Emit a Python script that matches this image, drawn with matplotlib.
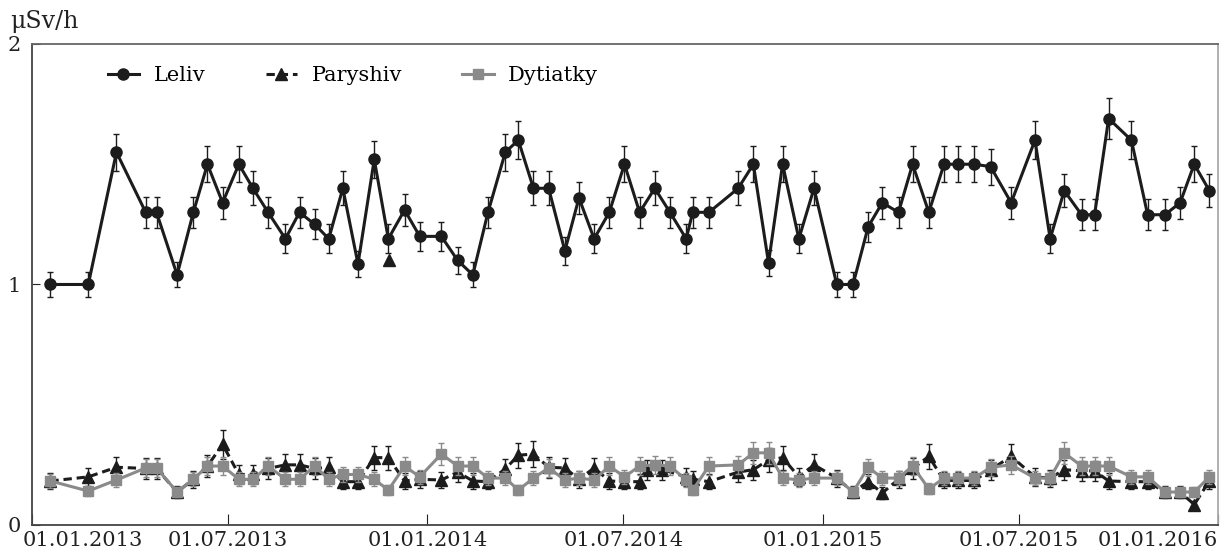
import numpy as np
import matplotlib
matplotlib.use("Agg")
import matplotlib.pyplot as plt
import matplotlib.transforms as mtransforms

plt.rcParams['font.family'] = ['DejaVu Serif']
plt.rcParams['lines.scale_dashes'] = False

# sampling dates
dates = ['2013-01-18', '2013-02-22', '2013-03-20', '2013-04-16', '2013-04-26',
         '2013-05-15', '2013-05-30', '2013-06-12', '2013-06-26', '2013-07-11',
         '2013-07-24', '2013-08-07', '2013-08-23', '2013-09-05', '2013-09-19',
         '2013-10-02', '2013-10-15', '2013-10-29', '2013-11-13', '2013-11-26',
         '2013-12-11', '2013-12-25', '2014-01-14', '2014-01-29', '2014-02-12',
         '2014-02-26', '2014-03-14', '2014-03-26', '2014-04-09', '2014-04-23',
         '2014-05-08', '2014-05-21', '2014-06-04', '2014-06-18', '2014-07-02',
         '2014-07-16', '2014-07-30', '2014-08-13', '2014-08-28', '2014-09-03',
         '2014-09-18', '2014-10-15', '2014-10-29', '2014-11-12', '2014-11-25',
         '2014-12-10', '2014-12-24', '2015-01-14', '2015-01-29', '2015-02-12',
         '2015-02-25', '2015-03-12', '2015-03-25', '2015-04-09', '2015-04-23',
         '2015-05-06', '2015-05-21', '2015-06-05', '2015-06-24', '2015-07-16',
         '2015-07-30', '2015-08-12', '2015-08-28', '2015-09-09', '2015-09-22',
         '2015-10-13', '2015-10-28', '2015-11-13', '2015-11-27', '2015-12-10',
         '2015-12-24']

# Paryshiv was sampled on the same days except two in summer 2014
dates_paryshiv = list(dates)
dates_paryshiv[36] = '2014-07-23'
dates_paryshiv[37] = '2014-08-06'

leliv = [1.00, 1.00, 1.55, 1.30, 1.30, 1.04, 1.30, 1.50, 1.34, 1.50,
         1.40, 1.30, 1.19, 1.30, 1.25, 1.19, 1.40, 1.085, 1.52, 1.19,
         1.31, 1.20, 1.20, 1.10, 1.04, 1.30, 1.55, 1.60, 1.40, 1.40,
         1.14, 1.36, 1.19, 1.30, 1.50, 1.30, 1.40, 1.30, 1.19, 1.30,
         1.30, 1.40, 1.50, 1.09, 1.50, 1.19, 1.40, 1.00, 1.00, 1.24,
         1.34, 1.30, 1.50, 1.30, 1.50, 1.50, 1.50, 1.49, 1.34, 1.60,
         1.19, 1.39, 1.29, 1.29, 1.69, 1.60, 1.29, 1.29, 1.34, 1.50,
         1.39]

paryshiv = [0.183, 0.20, 0.24, 0.235, 0.235, 0.137, 0.19, 0.245, 0.335, 0.21,
            0.21, 0.235, 0.25, 0.25, 0.235, 0.24, 0.18, 0.18, 0.28, 0.28,
            0.183, 0.19, 0.187, 0.22, 0.183, 0.18, 0.233, 0.29, 0.295, 0.24,
            0.237, 0.19, 0.237, 0.183, 0.18, 0.18, 0.23, 0.23, 0.20, 0.19,
            0.18, 0.22, 0.23, 0.27, 0.28, 0.20, 0.25, 0.195, 0.137, 0.18,
            0.133, 0.19, 0.235, 0.285, 0.185, 0.185, 0.185, 0.23, 0.285, 0.20,
            0.195, 0.23, 0.225, 0.225, 0.183, 0.18, 0.18, 0.137, 0.137, 0.085,
            0.183]

dytiatky = [0.183, 0.141, 0.187, 0.237, 0.237, 0.137, 0.19, 0.245, 0.245, 0.19,
            0.19, 0.245, 0.19, 0.19, 0.245, 0.19, 0.21, 0.21, 0.19, 0.145,
            0.245, 0.20, 0.295, 0.245, 0.245, 0.195, 0.195, 0.145, 0.195, 0.237,
            0.187, 0.195, 0.187, 0.245, 0.20, 0.245, 0.25, 0.245, 0.187, 0.145,
            0.245, 0.25, 0.30, 0.30, 0.195, 0.187, 0.195, 0.195, 0.137, 0.24,
            0.195, 0.195, 0.245, 0.15, 0.195, 0.195, 0.195, 0.24, 0.25, 0.195,
            0.195, 0.30, 0.245, 0.245, 0.245, 0.20, 0.20, 0.137, 0.137, 0.137,
            0.20]

# stray Paryshiv point drawn up near the Leliv curve
paryshiv_extra_date = ['2013-11-27']
paryshiv_extra = [1.10]

# relative uncertainty of each series
leliv_err = 0.05
paryshiv_err = 0.18
dytiatky_err = 0.15

xticks = ['2013-01-01', '2013-07-01', '2014-01-01', '2014-07-01',
          '2015-01-01', '2015-07-01', '2016-01-01']
xticklabels = ['01.01.2013', '01.07.2013', '01.01.2014', '01.07.2014',
               '01.01.2015', '01.07.2015', '01.01.2016']

d = np.array(dates, dtype='datetime64[D]')
dp = np.array(dates_paryshiv, dtype='datetime64[D]')
le = np.array(leliv)
pa = np.array(paryshiv)
dy = np.array(dytiatky)

fig = plt.figure(figsize=(12.2, 5.56), dpi=100)
ax = fig.add_axes([0.0262, 0.0558, 0.9722, 0.8651])

c_black = '#1c1c1c'
c_gray = '#8a8a8a'

e1 = ax.errorbar(d, le, yerr=leliv_err * le, color=c_black, lw=2.2,
                 marker='o', ms=8, ecolor=c_black, elinewidth=1.0,
                 capsize=2.5, capthick=1.0, label='Leliv', zorder=3)
e2 = ax.errorbar(dp, pa, yerr=paryshiv_err * pa, color=c_black, lw=2.2,
                 marker='^', ms=8, ecolor=c_black, elinewidth=1.0,
                 capsize=2.5, capthick=1.0, label='Paryshiv', zorder=4)
e2.lines[0].set_dashes((6, 3.5))
ax.plot(np.array(paryshiv_extra_date, dtype='datetime64[D]'), paryshiv_extra,
        ls='none', marker='^', ms=8, color=c_black, zorder=4)
e3 = ax.errorbar(d, dy, yerr=dytiatky_err * dy, color=c_gray, lw=2.2,
                 marker='s', ms=7, ecolor=c_gray, elinewidth=1.0,
                 capsize=2.5, capthick=1.0, label='Dytiatky', zorder=5)

ax.set_xlim(np.datetime64('2013-01-01'), np.datetime64('2016-01-01'))
ax.set_ylim(0, 2)
ax.set_yticks([0, 1, 2])
ax.set_yticklabels(['0', '1', '2'])
ax.set_xticks(np.array(xticks, dtype='datetime64[D]'))
ax.set_xticklabels(xticklabels)

ax.tick_params(axis='both', direction='in', labelsize=15, colors='#222222')
ax.tick_params(axis='x', length=8, pad=4)
ax.tick_params(axis='y', length=6, pad=8)

labs = ax.get_xticklabels()
labs[0].set_horizontalalignment('left')
labs[0].set_transform(labs[0].get_transform() +
                      mtransforms.ScaledTranslation(-0.09, 0, fig.dpi_scale_trans))
labs[-1].set_horizontalalignment('right')

ax.spines['left'].set_color('#444444')
ax.spines['bottom'].set_color('#444444')
ax.spines['top'].set_color('#666666')
ax.spines['right'].set_color('#aaaaaa')
for s in ax.spines.values():
    s.set_linewidth(1.3)

ax.text(-0.0185, 1.033, 'μSv/h', transform=ax.transAxes, fontsize=17,
        ha='left', va='baseline', color='#222222')

ax.legend([e1.lines[0], e2.lines[0], e3.lines[0]],
          ['Leliv', 'Paryshiv', 'Dytiatky'],
          loc='center left', bbox_to_anchor=(0.048, 0.934), ncol=3,
          frameon=False, fontsize=15, handlelength=1.5, handletextpad=0.7,
          columnspacing=2.9)

fig.savefig('out.png', dpi=100)
